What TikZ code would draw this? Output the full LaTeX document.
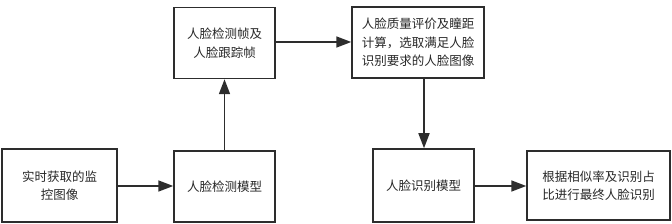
\documentclass[tikz,border=0pt]{standalone}
\usepackage{fontspec}
\setmainfont{Noto Sans CJK SC}
\usepackage{xcolor}
\usepackage{tikz}
\usetikzlibrary{arrows.meta,positioning,calc}
\definecolor{flowline}{RGB}{45,45,45}
\definecolor{flowtext}{RGB}{40,40,40}

\begin{document}
\begin{tikzpicture}[
    x=1pt, y=-1pt,
    box/.style={draw=flowline, line width=1.5pt, fill=white, align=center, text=flowtext,
        inner sep=2pt, font=\fontsize{12.5}{18.5}\selectfont},
    arr/.style={-{Triangle[length=15pt,width=11pt]}, line width=1.7pt, draw=flowline}
]
\useasboundingbox (0,0) rectangle (672,224);
\node[box, minimum width=115pt, minimum height=73pt] (capture) at (59.5,185.5) {实时获取的监\\控图像};
\node[box, minimum width=101pt, minimum height=71pt] (detmodel) at (224.5,186.5) {人脸检测模型};
\node[box, minimum width=101pt, minimum height=71pt] (frames) at (224.5,43) {人脸检测帧及\\人脸跟踪帧};
\node[box, minimum width=132pt, minimum height=71pt] (quality) at (418,42.5) {人脸质量评价及瞳距\\计算，选取满足人脸\\识别要求的人脸图像};
\node[box, minimum width=101pt, minimum height=73pt] (recmodel) at (423.5,185.5) {人脸识别模型};
\node[box, minimum width=143pt, minimum height=69pt] (final) at (598.5,185.5) {根据相似率及识别占\\比进行最终人脸识别};

\draw[arr] (capture.east |- 0,186) -- (detmodel.west |- 0,186);
\draw[arr] (detmodel.north) -- (frames.south);
\draw[arr] (frames.east |- 0,42) -- (quality.west |- 0,42);
\draw[arr] (quality.south -| 424,0) -- (recmodel.north -| 424,0);
\draw[arr] (recmodel.east |- 0,186) -- (final.west |- 0,186);
\end{tikzpicture}
\end{document}
